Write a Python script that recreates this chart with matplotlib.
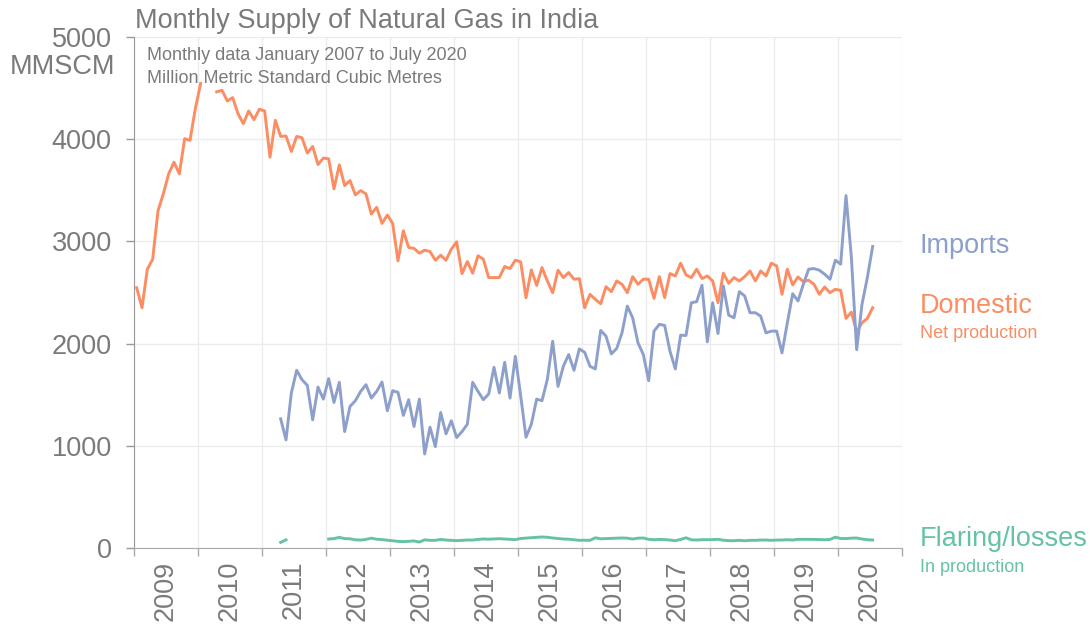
import numpy as np
import pandas as pd
import matplotlib
matplotlib.use("Agg")
import matplotlib.pyplot as plt

plt.rcParams['font.family'] = ['Liberation Sans', 'DejaVu Sans']

nan = np.nan

# Monthly values, MMSCM, January 2009 .. July 2020
domestic = [
    2547, 2351, 2728, 2826, 3300, 3465, 3661, 3775, 3661, 4005, 3988, 4300,
    4545, nan, nan, 4463, 4479, 4374, 4407, 4250, 4152, 4276, 4191, 4293,
    4276, 3824, 4185, 4027, 4031, 3880, 4027, 4014, 3864, 3929, 3752, 3815,
    3808, 3514, 3749, 3546, 3595, 3455, 3497, 3465, 3268, 3333, 3176, 3258,
    3176, 2809, 3104, 2940, 2931, 2885, 2914, 2901, 2816, 2865, 2816, 2924,
    2996, 2685, 2803, 2689, 2859, 2826, 2646, 2646, 2646, 2754, 2734, 2816,
    2800, 2449, 2721, 2570, 2744, 2613, 2498, 2718, 2646, 2695, 2630, 2636,
    2351, 2482, 2433, 2390, 2557, 2508, 2613, 2580, 2498, 2655, 2580, 2630,
    2630, 2443, 2655, 2449, 2685, 2662, 2787, 2672, 2646, 2728, 2636, 2662,
    2613, 2400, 2689, 2590, 2646, 2613, 2655, 2711, 2613, 2711, 2662, 2787,
    2760, 2482, 2728, 2574, 2652, 2606, 2620, 2580, 2482, 2554, 2498, 2531,
    2521, 2247, 2308, 2115, 2203, 2247, 2351,
]

imports = [nan] * 24 + [
    nan, nan, nan, 1264, 1058, 1516, 1739, 1647, 1591, 1254, 1575, 1457,
    1657, 1424, 1621, 1139, 1385, 1441, 1532, 1598, 1467, 1532, 1624, 1343,
    1539, 1523, 1297, 1451, 1189, 1457, 920, 1182, 992, 1326, 1117, 1245,
    1081, 1139, 1211, 1621, 1532, 1451, 1506, 1768, 1516, 1817, 1467, 1876,
    1490, 1084, 1211, 1457, 1441, 1650, 2023, 1581, 1778, 1893, 1739, 1948,
    1915, 1778, 1752, 2129, 2073, 1899, 1952, 2105, 2367, 2252, 2007, 1893,
    1637, 2122, 2188, 2178, 1925, 1752, 2083, 2079, 2400, 2410, 2571, 2017,
    2400, 2099, 2564, 2279, 2252, 2508, 2466, 2302, 2302, 2269, 2105, 2122,
    2122, 1909, 2203, 2488, 2417, 2580, 2728, 2734, 2718, 2679, 2630, 2816,
    2777, 3448, 2850, 1940, 2384, 2646, 2950,
]

flaring = [nan] * 24 + [nan, nan, nan, 55, 80] + [nan] * 7 + [
    88, 92, 104, 92, 90, 80, 78, 84, 96, 86,
    82, 76, 70, 65, 62, 65, 69, 58, 80, 75,
    75, 84, 78, 75, 72, 75, 78, 78, 84, 88,
    86, 88, 91, 88, 86, 82, 93, 97, 100, 105,
    108, 105, 98, 93, 88, 86, 80, 75, 76, 75,
    100, 90, 92, 93, 96, 98, 96, 88, 96, 98,
    85, 81, 84, 82, 78, 71, 84, 100, 80, 78,
    81, 81, 82, 85, 76, 72, 71, 75, 71, 75,
    75, 78, 78, 75, 78, 78, 81, 78, 85, 85,
    85, 84, 82, 81, 84, 106, 93, 92, 96, 98,
    88, 81, 78,
]

dates = pd.date_range('2009-01-01', '2020-07-01', freq='MS')
t = dates.year + (dates.month - 0.5) / 12

years = list(range(2009, 2021))

GRAY = '#7a7a7a'
C_DOM = '#fc8d62'
C_IMP = '#8da0cb'
C_FLR = '#66c2a5'

fig = plt.figure(figsize=(10.91, 6.25), dpi=100)
ax = fig.add_axes([134 / 1091, 1 - 548 / 625, 768 / 1091, 511 / 625])

ax.plot(t, domestic, color=C_DOM, lw=2.1, solid_joinstyle='round')
ax.plot(t, imports, color=C_IMP, lw=2.1, solid_joinstyle='round')
ax.plot(t, flaring, color=C_FLR, lw=2.1, solid_joinstyle='round')

ax.set_xlim(2009, 2021)
ax.set_ylim(0, 5000)

ax.set_xticks(range(2009, 2022))
ax.set_xticklabels([])
ax.set_xticks([y + 0.5 for y in years], minor=True)
ax.set_xticklabels([str(y) for y in years], minor=True, rotation=90,
                   fontsize=19.5, color=GRAY)
ax.tick_params(axis='x', which='major', length=6, color='#aaaaaa', width=1)
ax.tick_params(axis='x', which='minor', length=0, pad=9)

ax.set_yticks(range(0, 5001, 1000))
ax.set_yticklabels(['0', '1000', '2000', '3000', '4000', '5000'],
                   fontsize=19.5, color=GRAY)
ax.tick_params(axis='y', length=6, color='#999999', width=1, pad=10)

ax.grid(True, which='major', color='#ececec', lw=1)
ax.set_axisbelow(True)
for s in ['top', 'right']:
    ax.spines[s].set_visible(False)
ax.spines['left'].set_color('#999999')
ax.spines['bottom'].set_color('#aaaaaa')

fig.text(115 / 1091, 1 - 74 / 625, 'MMSCM', ha='right', va='baseline',
         fontsize=19.5, color=GRAY)

fig.text(135 / 1091, 1 - 28 / 625, 'Monthly Supply of Natural Gas in India',
         ha='left', va='baseline', fontsize=19.5, color=GRAY)
fig.text(147 / 1091, 1 - 60 / 625, 'Monthly data January 2007 to July 2020',
         ha='left', va='baseline', fontsize=13, color=GRAY)
fig.text(147 / 1091, 1 - 83 / 625, 'Million Metric Standard Cubic Metres',
         ha='left', va='baseline', fontsize=13, color=GRAY)

fig.text(920 / 1091, 1 - 253 / 625, 'Imports', ha='left', va='baseline',
         fontsize=19.5, color=C_IMP)
fig.text(920 / 1091, 1 - 313 / 625, 'Domestic', ha='left', va='baseline',
         fontsize=19.5, color=C_DOM)
fig.text(920 / 1091, 1 - 338 / 625, 'Net production', ha='left', va='baseline',
         fontsize=13, color=C_DOM)
fig.text(920 / 1091, 1 - 546 / 625, 'Flaring/losses', ha='left', va='baseline',
         fontsize=19.5, color=C_FLR)
fig.text(920 / 1091, 1 - 572 / 625, 'In production', ha='left', va='baseline',
         fontsize=13, color=C_FLR)

fig.savefig('out.png', dpi=100)
